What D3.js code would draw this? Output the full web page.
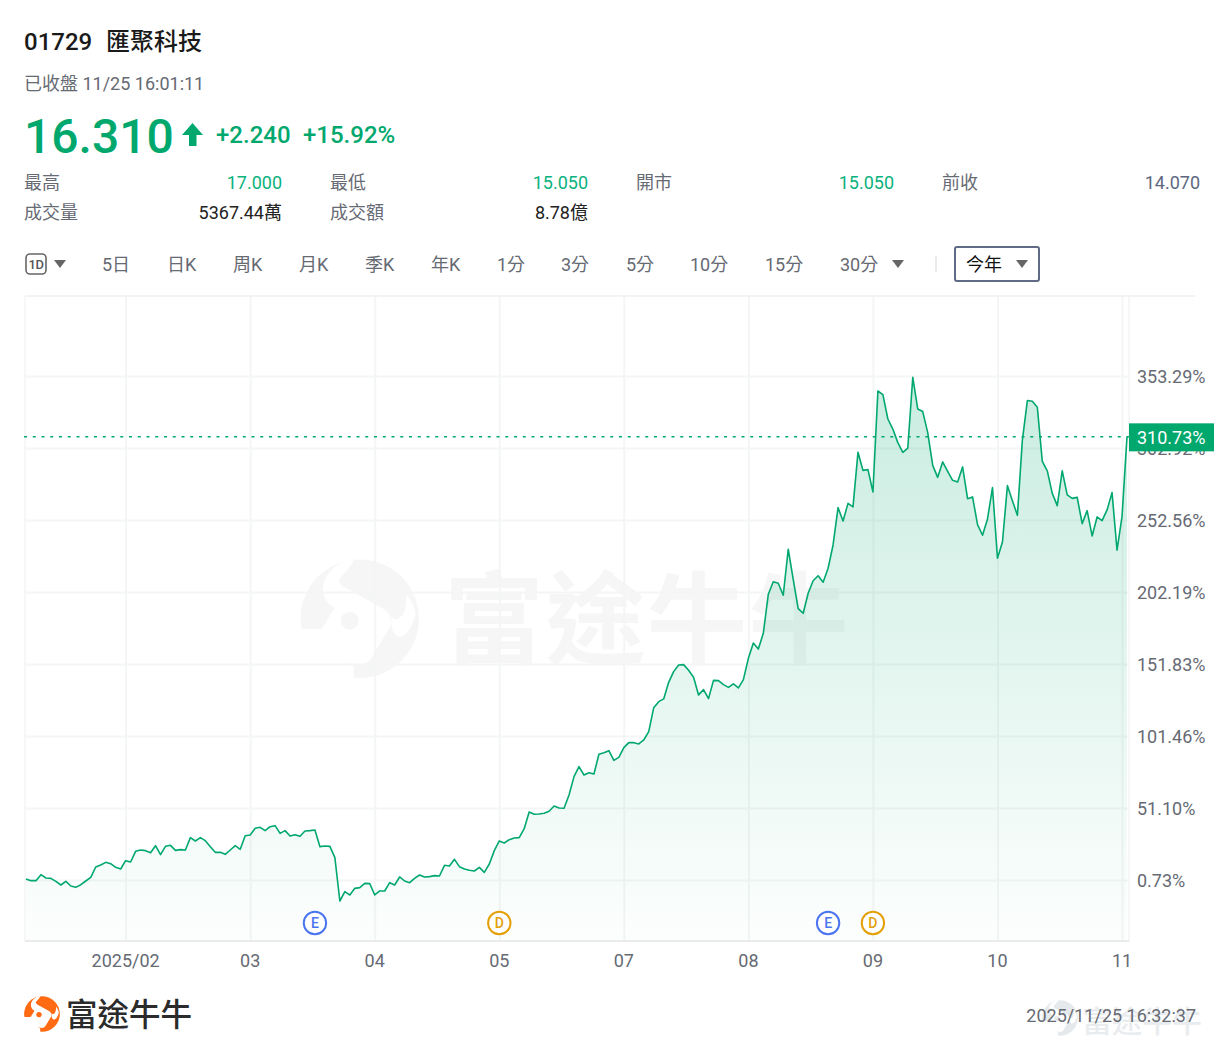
<!DOCTYPE html>
<html><head><meta charset="utf-8">
<script src="https://cdn.jsdelivr.net/npm/d3@7/dist/d3.min.js"></script>
<style>
html,body{margin:0;padding:0;background:#fff}
svg{display:block}
text{font-family:Roboto,"Noto Sans CJK TC",sans-serif}
</style></head><body>
<svg id="c" width="1220" height="1055"></svg>
<script>
// Percent change since start of year, one value per trading day
const returnsPct = [1.43,0.26,0.26,4.46,2.13,1.89,-0.21,-2.77,-0.21,-3.47,-4.40,-2.54,0.03,2.59,9.82,11.22,13.09,12.15,9.59,8.42,
14.25,13.32,20.78,21.71,21.25,19.85,24.75,18.45,24.28,24.98,21.48,21.95,21.71,30.34,28.01,30.34,28.24,24.05,20.08,20.08,
18.68,21.71,24.75,22.18,31.74,32.21,36.87,37.57,35.24,38.04,38.74,33.37,35.24,31.51,32.44,31.28,35.01,35.24,35.71,24.05,
24.51,24.28,16.35,-13.96,-7.43,-9.76,-5.10,-4.63,-1.60,-1.83,-9.76,-6.96,-6.96,-1.13,-2.76,2.83,0.03,-1.13,1.90,4.23,
2.83,3.07,3.77,3.53,11.00,10.53,15.19,10.06,8.43,7.50,7.03,9.60,6.10,11.93,21.26,28.02,26.62,28.95,30.12,30.35,
36.65,48.31,46.68,46.91,47.38,48.77,52.50,51.11,50.87,60.20,73.03,80.02,74.19,75.82,74.89,88.65,89.82,91.22,84.45,86.55,
93.31,96.81,96.81,95.88,98.68,104.5,121.3,125.5,127.4,139.0,146.5,151.1,151.4,147.4,142.5,130.2,133.9,127.6,140.4,140.2,
137.4,135.5,137.9,135.1,140.9,155.8,166.5,162.3,173.3,200.6,209.4,208.3,199.9,232.1,211.0,190.6,187.3,201.3,210.1,213.6,
209.0,218.8,235.1,261.2,251.9,264.2,261.7,299.9,287.3,287.8,272.2,342.8,340.3,323.2,316.2,306.7,299.9,302.9,352.4,330.2,
328.4,313.7,290.8,282.4,293.2,286.6,280.3,279.2,289.7,267.5,268.7,249.3,241.9,253.3,275.2,225.8,237.2,276.6,266.1,255.8,
308.5,336.1,335.6,331.4,293.6,286.9,271.2,262.6,286.9,270.1,267.7,268.4,250.0,259.1,241.4,254.7,252.1,259.6,271.7,231.4,
254.9,310.73];
const yTicks = [0.73,51.10,101.46,151.83,202.19,252.56,302.92,353.29];
const xTickIdx = [20,45,70,95,120,145,170,195,220];
const xTickLabels = ["2025/02","03","04","05","07","08","09","10","11"];
const lastPct = 310.73;
const events = [{i:58,k:"E"},{i:95,k:"D"},{i:161,k:"E"},{i:170,k:"D"}];
const tabs = ["5日","日K","周K","月K","季K","年K","1分","3分","5分","10分","15分","30分"];
const tabX = [102,167,233,299,365,431,497,561,626,690,765,840];
const statRows = [
 [["最高","17.000"],["最低","15.050"],["開市","15.050"],["前收","14.070"]],
 [["成交量","5367.44萬"],["成交額","8.78億"]]
];

const GREEN="#00a86e", GRAY="#666a73", svg=d3.select("#c");
const L=25,R=1129,T=296,B=941;
const x=d3.scaleLinear().domain([0,returnsPct.length-1]).range([26,1127]);
const y=d3.scaleLinear().domain([yTicks[0],yTicks[7]]).range([880,376]);

function txt(g,s,px,py,size,fill,o={}){
  return g.append("text").attr("x",px).attr("y",py).attr("font-size",size).attr("fill",fill)
   .attr("text-anchor",o.a||"start").attr("dominant-baseline","central").attr("font-weight",o.w||400).text(s);
}
// logo: circle with swoosh cut-outs, in a 120-unit box
function logo(px,py,s,col,cut){
  const g=svg.append("g").attr("transform",`translate(${px},${py}) scale(${s})`);
  g.append("circle").attr("cx",60).attr("cy",60).attr("r",59.5).attr("fill",col);
  g.append("path").attr("fill",cut).attr("d","M55,0 C37,1 23,17 23,30 C23,41 30,47 35,49 L22,70 L-2,70 C-4,95 25,122 54,122 L54,108 L46,102 C55,108 68,110 75,94 L90,69 C94,59 88,52 82,49 L44,28 C38,24 38,20 44,15 C48,11 52,6 55,0 Z");
  g.append("path").attr("fill",cut).attr("d","M107,36 C107,46 106,56 99,60 C95,61 92,59 92,56 C92,64 90,72 98,78 C106,80 112,70 116,56 C116,49 112,42 107,36 Z");
  g.append("ellipse").attr("cx",50).attr("cy",62).attr("rx",9).attr("ry",9).attr("fill",col);
  return g;
}
// watermark (under everything)
logo(300,559,0.995,"#f6f6f6","#fff");
txt(svg,"富途牛牛",444,621,100,"#f6f6f6",{w:700}).attr("font-family",'"Noto Sans CJK SC"').attr("letter-spacing",1.5);

// grid + axes
const gx=svg.append("g").attr("transform",`translate(0,${B})`)
 .call(d3.axisBottom(x).tickValues(xTickIdx).tickFormat((d,i)=>xTickLabels[i]).tickSize(-(B-T)));
gx.select(".domain").remove();
gx.selectAll("line").attr("stroke","#f4f5f6").attr("stroke-width",2);
gx.selectAll("text").attr("font-size",18).attr("fill",GRAY).attr("y",0).attr("dy",0)
  .attr("transform","translate(-0.5,19.5)").attr("dominant-baseline","central");

const gy=svg.append("g").attr("transform",`translate(${L},0)`)
 .call(d3.axisRight(y).tickValues(yTicks).tickFormat(d=>d.toFixed(2)+"%").tickSize(R-L));
gy.select(".domain").remove();
gy.selectAll("line").attr("stroke","#f4f5f6").attr("stroke-width",2);
gy.selectAll("text").attr("font-size",18).attr("fill",GRAY).attr("x",1112).attr("dy",0).attr("dominant-baseline","central");

// borders
svg.append("line").attr("x1",L).attr("x2",1195).attr("y1",T).attr("y2",T).attr("stroke","#eeeff0").attr("stroke-width",1.5);
svg.append("line").attr("x1",L).attr("x2",L).attr("y1",T).attr("y2",B).attr("stroke","#f4f5f6").attr("stroke-width",1.5);
svg.append("line").attr("x1",R).attr("x2",R).attr("y1",T).attr("y2",B).attr("stroke","#f4f5f6").attr("stroke-width",1.5);

// area + line
const defs=svg.append("defs");
const gr=defs.append("linearGradient").attr("id","ag").attr("gradientUnits","userSpaceOnUse")
 .attr("x1",0).attr("x2",0).attr("y1",y(d3.max(returnsPct))).attr("y2",B);
gr.append("stop").attr("offset",0).attr("stop-color",GREEN).attr("stop-opacity",.21);
gr.append("stop").attr("offset",1).attr("stop-color",GREEN).attr("stop-opacity",.01);
svg.append("path").attr("fill","url(#ag)")
 .attr("d",d3.area().x((d,i)=>x(i)).y0(B).y1(d=>y(d))(returnsPct));
svg.append("line").attr("x1",L).attr("x2",R).attr("y1",B).attr("y2",B).attr("stroke","#e4e5e7").attr("stroke-width",1.5);
svg.append("path").attr("fill","none").attr("stroke",GREEN).attr("stroke-width",1.6).attr("stroke-linejoin","round")
 .attr("d",d3.line().x((d,i)=>x(i)).y(d=>y(d))(returnsPct));

// last price line + tag
svg.append("line").attr("x1",L-1).attr("x2",R).attr("y1",y(lastPct)).attr("y2",y(lastPct))
 .attr("stroke",GREEN).attr("stroke-width",1.5).attr("stroke-dasharray","3 5.75");
svg.append("rect").attr("x",R).attr("y",y(lastPct)-13.5).attr("width",85).attr("height",28).attr("fill",GREEN);
txt(svg,lastPct.toFixed(2)+"%",1137,y(lastPct)+.5,18,"#fff");

// event badges
const cols={E:"#4a74f0",D:"#e3a008"};
events.forEach(e=>{
  svg.append("circle").attr("cx",x(e.i)).attr("cy",923).attr("r",11.2).attr("fill","#fff").attr("stroke",cols[e.k]).attr("stroke-width",2);
  txt(svg,e.k,x(e.i),923,14,cols[e.k],{a:"middle",w:500});
});

// header
txt(svg,"01729",24,42,24,"#1a1a1a",{w:500});
txt(svg,"匯聚科技",106,41.5,24,"#1a1a1a",{w:500});
txt(svg,"已收盤 11/25 16:01:11",24,83,18,GRAY);
txt(svg,"16.310",24,136.5,48,GREEN,{w:500});
svg.append("path").attr("fill",GREEN).attr("d","M192.500,123 L203,135 L196.500,135 L196.500,146 L189,146 L189,135 L182,135 Z");
txt(svg,"+2.240",216,135,24,GREEN,{w:500});
txt(svg,"+15.92%",303,135,24,GREEN,{w:500});

const colL=[24,330,636,942], colR=[282,588,894,1200];
statRows.forEach((row,r)=>row.forEach((c,i)=>{
  const py=182+r*30;
  txt(svg,c[0],colL[i],py,18,GRAY);
  const col = r===1 ? "#222" : (i===3 ? "#5d6880" : "#0ab27d");
  txt(svg,c[1],colR[i],py,18,col,{a:"end"});
}));

// toolbar
const tri=(cx,cy,w,h)=>svg.append("path").attr("fill","#666").attr("d",d3.line()([[cx-w/2,cy-h/2],[cx+w/2,cy-h/2],[cx,cy+h/2]])+"Z");
svg.append("rect").attr("x",26).attr("y",254).attr("width",20).attr("height",20).attr("rx",4).attr("fill","none").attr("stroke","#666").attr("stroke-width",1.6);
txt(svg,"1D",36,264,13,"#555",{a:"middle",w:500}).attr("letter-spacing",-.5);
tri(60,264,12,8);
tabs.forEach((t,i)=>txt(svg,t,tabX[i],264,18,GRAY));
tri(898,264,12,8);
svg.append("line").attr("x1",936).attr("x2",936).attr("y1",256).attr("y2",272).attr("stroke","#e3e4e6").attr("stroke-width",1.5);
svg.append("rect").attr("x",955).attr("y",247).attr("width",84).attr("height",34).attr("rx",2).attr("fill","#fff").attr("stroke","#5f6b85").attr("stroke-width",2);
txt(svg,"今年",966,264,18,"#111");
tri(1022,264,12,8);

// footer
logo(24,996,0.3,"#ff6a13","#fff");
txt(svg,"富途牛牛",66,1015,31.5,"#2b2b2b",{w:500}).attr("font-family",'"Noto Sans CJK SC"');
logo(1042,1000,0.3,"#e6e9ec","#fff");
txt(svg,"富途牛牛",1082,1021,30,"#e9ecef",{w:500}).attr("font-family",'"Noto Sans CJK SC"');
txt(svg,"2025/11/25 16:32:37",1196,1015,18,GRAY,{a:"end"});
</script></body></html>
